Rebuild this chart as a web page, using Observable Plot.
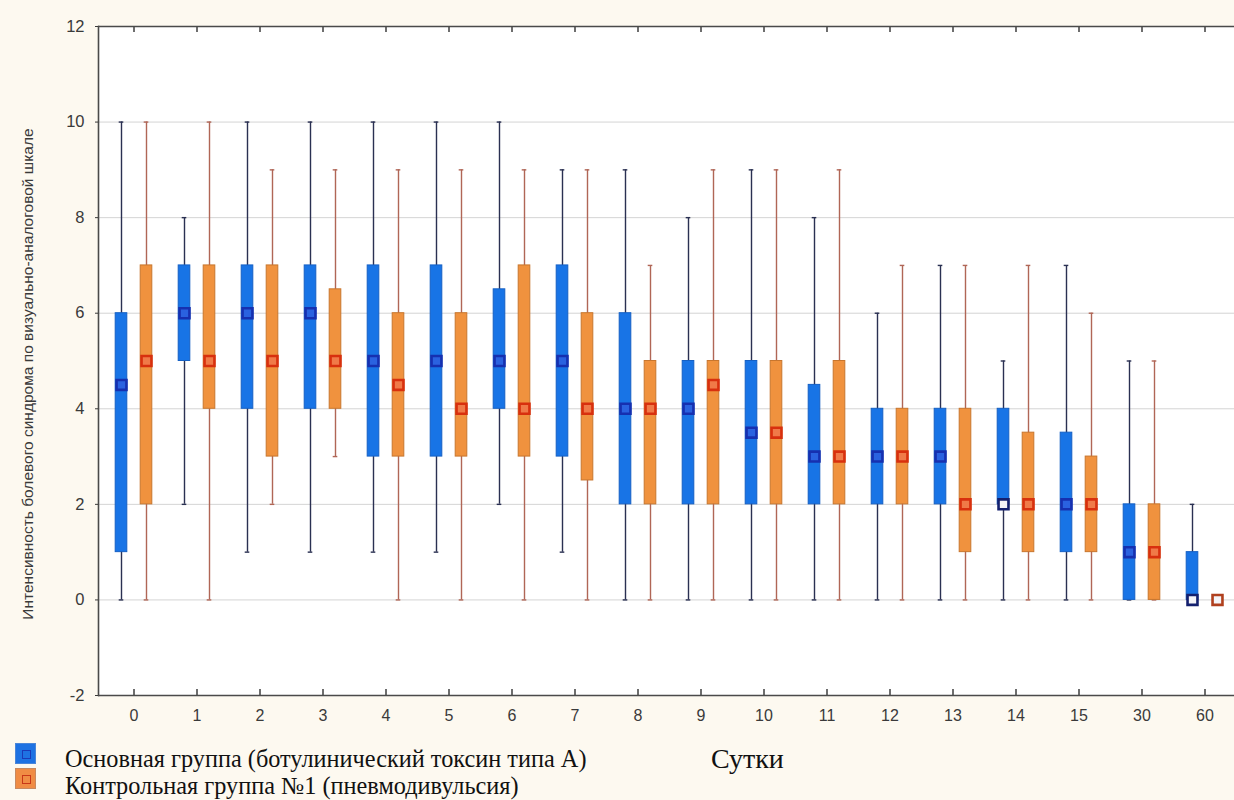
<!DOCTYPE html>
<html>
<head>
<meta charset="utf-8">
<script src="https://cdn.jsdelivr.net/npm/d3@7"></script>
<script src="https://cdn.jsdelivr.net/npm/@observablehq/plot@0.6"></script>
<style>
html, body { margin: 0; padding: 0; background: #fdf9f0; }
#wrap { position: relative; width: 1234px; height: 800px; overflow: hidden; background: #fdf9f0; }
#chart { position: absolute; left: 0; top: 0; }
.sw { position: absolute; left: 15px; width: 21px; height: 21px; box-sizing: border-box; }
.sw i { position: absolute; left: 6px; top: 6px; width: 9px; height: 9px; box-sizing: border-box; }
.lg { position: absolute; left: 65px; top: 745px; font-family: "Liberation Serif", "Times New Roman", serif; font-size: 24.3px; line-height: 27px; color: #111; white-space: nowrap; }
.ttl { position: absolute; left: 711px; top: 745px; font-family: "Liberation Serif", "Times New Roman", serif; font-size: 28px; line-height: 28px; color: #111; white-space: nowrap; }
</style>
</head>
<body>
<div id="wrap">
  <div id="chart"></div>
  <div class="sw" style="top:743px;background:#1e72e2;border:1px solid #4a86d8;"><i style="border:1.5px solid #1a3ab8;"></i></div>
  <div class="sw" style="top:768px;background:#f08c44;border:1px solid #c88a60;"><i style="border:1.5px solid #c83818;"></i></div>
  <div class="lg" id="lg"></div>
  <div class="ttl" id="xt"></div>
</div>
<script>
// ---- data ----
const days = ["0","1","2","3","4","5","6","7","8","9","10","11","12","13","14","15","30","60"];

const groupNames = ["Основная группа (ботулинический токсин типа А)", "Контрольная группа №1 (пневмодивульсия)"];
const xTitle = "Сутки";
const yTitle = "Интенсивность болевого синдрома по визуально-аналоговой шкале";
const yTicks = [-2, 0, 2, 4, 6, 8, 10, 12];

// Основная группа
const mainMin = [0, 2, 1, 1, 1, 1, 2, 1, 0, 0, 0, 0, 0, 0, 0, 0, 0, 0];
const mainQ1  = [1, 5, 4, 4, 3, 3, 4, 3, 2, 2, 2, 2, 2, 2, 2, 1, 0, 0];
const mainMed = [4.5, 6, 6, 6, 5, 5, 5, 5, 4, 4, 3.5, 3, 3, 3, 2, 2, 1, 0];
const mainQ3  = [6, 7, 7, 7, 7, 7, 6.5, 7, 6, 5, 5, 4.5, 4, 4, 4, 3.5, 2, 1];
const mainMax = [10, 8, 10, 10, 10, 10, 10, 9, 9, 8, 9, 8, 6, 7, 5, 7, 5, 2];

// Контрольная группа №1
const ctrlMin = [0, 0, 2, 3, 0, 0, 0, 0, 0, 0, 0, 0, 0, 0, 0, 0, 0, 0];
const ctrlQ1  = [2, 4, 3, 4, 3, 3, 3, 2.5, 2, 2, 2, 2, 2, 1, 1, 1, 0, 0];
const ctrlMed = [5, 5, 5, 5, 4.5, 4, 4, 4, 4, 4.5, 3.5, 3, 3, 2, 2, 2, 1, 0];
const ctrlQ3  = [7, 7, 7, 6.5, 6, 6, 7, 6, 5, 5, 5, 5, 4, 4, 3.5, 3, 2, 0];
const ctrlMax = [10, 10, 9, 9, 9, 9, 9, 9, 7, 9, 9, 9, 7, 7, 7, 6, 5, 0];

function rows(mn, q1, md, q3, mx) {
  return days.map((d, i) => ({day: d, min: mn[i], q1: q1[i], med: md[i], q3: q3[i], max: mx[i], flat: md[i] === q1[i]}));
}
const mainRows = rows(mainMin, mainQ1, mainMed, mainQ3, mainMax);
const ctrlRows = rows(ctrlMin, ctrlQ1, ctrlMed, ctrlQ3, ctrlMax);

// ---- layout ----
const W = 1234, H = 740;
const xRange = [98, 1239];
const bw = (xRange[1] - xRange[0]) / days.length;
const boxW = 12, capW = 5, off = 12.5;
const frameH = 695 - 26;

const styles = [
  {rows: mainRows, dx: -off, whisker: "#2a3052", boxFill: "#1874e6", boxStroke: "#1560c4", medFill: "#2a62e0", medStroke: "#1630b0", flatStroke: "#14206e"},
  {rows: ctrlRows, dx: off, whisker: "#b06656", boxFill: "#f0923e", boxStroke: "#c8762e", medFill: "#f07a48", medStroke: "#d8300e", flatStroke: "#b0401e"}
];

const marks = [
  Plot.frame({fill: "white", stroke: null}),
  Plot.gridY({ticks: [0, 2, 4, 6, 8, 10], stroke: "#d4d4d4", strokeOpacity: 1, strokeWidth: 1}),
];
for (const s of styles) {
  marks.push(
    Plot.ruleX(s.rows, {x: "day", y1: "min", y2: "max", dx: s.dx, stroke: s.whisker, strokeWidth: 1.4}),
    Plot.tickY(s.rows, {x: "day", y: "max", dx: s.dx, insetLeft: (bw - capW) / 2, insetRight: (bw - capW) / 2, stroke: s.whisker, strokeWidth: 1.4}),
    Plot.tickY(s.rows, {x: "day", y: "min", dx: s.dx, insetLeft: (bw - capW) / 2, insetRight: (bw - capW) / 2, stroke: s.whisker, strokeWidth: 1.4}),
    Plot.rectY(s.rows, {x: "day", y1: "q1", y2: "q3", dx: s.dx, insetLeft: (bw - boxW) / 2, insetRight: (bw - boxW) / 2, fill: s.boxFill, stroke: s.boxStroke, strokeWidth: 1}),
    Plot.dot(s.rows, {x: "day", y: "med", dx: s.dx, symbol: "square", r: 5.6, fill: d => d.flat ? "#f4f4f8" : s.medFill, stroke: d => d.flat ? s.flatStroke : s.medStroke, strokeWidth: 2.6})
  );
}
marks.push(
  Plot.ruleY([12, -2], {stroke: "#4a4a4a", strokeWidth: 1.6}),
  Plot.frame({anchor: "left", stroke: "#4a4a4a", strokeWidth: 1.6}),
  Plot.ruleX(days, {x: d => d, insetBottom: frameH - 6, stroke: "#4a4a4a", strokeWidth: 1.6}),
  Plot.ruleX(days, {x: d => d, insetTop: frameH - 6, stroke: "#4a4a4a", strokeWidth: 1.6}),
  Plot.axisY({ticks: yTicks, tickFormat: d => String(d), tickSize: 3, tickPadding: 11, fontSize: 16.5, label: null}),
  Plot.axisX({tickSize: 0, tickPadding: 14, fontSize: 16, label: null}),
  Plot.text([yTitle], {frameAnchor: "left", textAnchor: "middle", dx: -70, dy: 13, rotate: -90, fontSize: 15.5, fill: "#3a3a3a", text: d => d})
);

const chart = Plot.plot({
  width: W,
  height: H,
  marginTop: 26,
  marginBottom: H - 695,
  marginLeft: 98,
  marginRight: 0,
  x: {type: "band", domain: days, range: xRange, padding: 0},
  y: {domain: [-2, 12]},
  style: {background: "transparent", color: "#3a3a3a", fontFamily: "'Liberation Sans', Arial, sans-serif"},
  marks
});
document.getElementById("chart").appendChild(chart);
document.getElementById("lg").innerHTML = groupNames.join("<br>");
document.getElementById("xt").textContent = xTitle;
</script>
</body>
</html>
